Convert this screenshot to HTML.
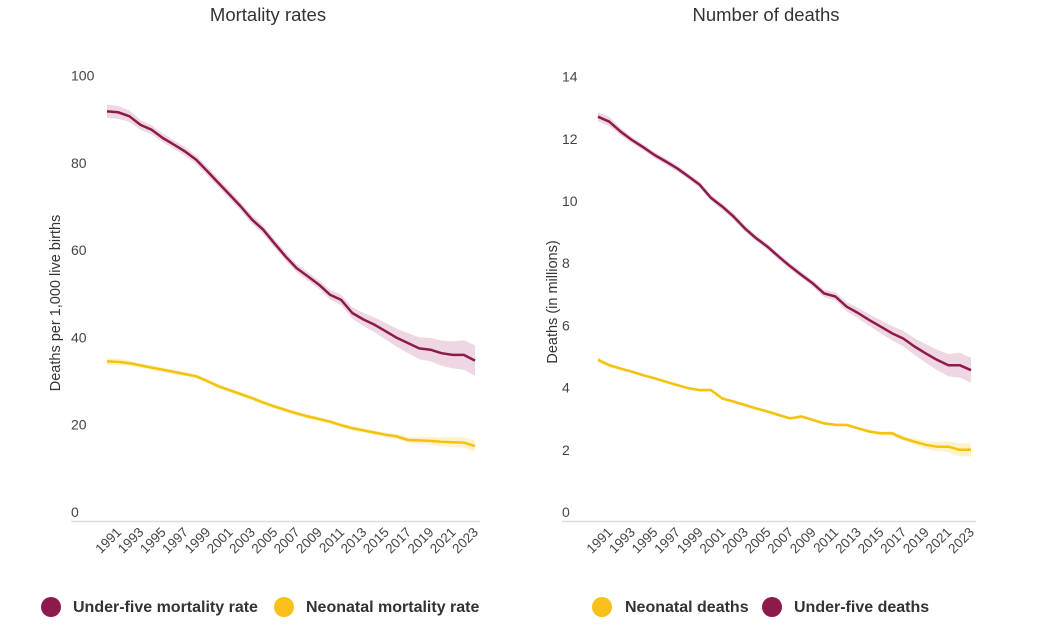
<!DOCTYPE html>
<html><head><meta charset="utf-8"><style>
body{margin:0;background:#fff;font-family:"Liberation Sans",sans-serif}
svg text{font-family:"Liberation Sans",sans-serif}
</style></head><body>
<svg id="s" width="1037" height="633" viewBox="0 0 1037 633">
<text x="268" y="21" text-anchor="middle" font-size="18.5" fill="#333">Mortality rates</text>
<text x="766" y="21" text-anchor="middle" font-size="18.5" fill="#333">Number of deaths</text>
<text transform="translate(60,303) rotate(-90)" text-anchor="middle" font-size="14.5" fill="#333">Deaths per 1,000 live births</text>
<text transform="translate(557,302) rotate(-90)" text-anchor="middle" font-size="14.5" fill="#333">Deaths (in millions)</text>
<g>
<circle cx="51" cy="607" r="10" fill="#8c1a4a"/>
<text x="73" y="612" font-size="16" font-weight="bold" fill="#333">Under-five mortality rate</text>
<circle cx="284" cy="607" r="10" fill="#f9bf1a"/>
<text x="306" y="612" font-size="16" font-weight="bold" fill="#333">Neonatal mortality rate</text>
</g>
<g>
<circle cx="602" cy="607" r="10" fill="#f9bf1a"/>
<text x="625" y="612" font-size="16" font-weight="bold" fill="#333">Neonatal deaths</text>
<circle cx="772" cy="607" r="10" fill="#8c1a4a"/>
<text x="794" y="612" font-size="16" font-weight="bold" fill="#333">Under-five deaths</text>
</g>
</svg>
<script>
const years = [1990,1991,1992,1993,1994,1995,1996,1997,1998,1999,2000,2001,2002,2003,2004,2005,2006,2007,2008,2009,2010,2011,2012,2013,2014,2015,2016,2017,2018,2019,2020,2021,2022,2023];
const xTickLabels = ["1991","1993","1995","1997","1999","2001","2003","2005","2007","2009","2011","2013","2015","2017","2019","2021","2023"];
const rateTicks = [0,20,40,60,80,100];
const deathTicks = [0,2,4,6,8,10,12,14];
const u5Rate = [91.8,91.6,90.7,88.7,87.6,85.7,84.2,82.6,80.7,78.1,75.4,72.7,70.0,67.0,64.7,61.6,58.6,55.9,54.0,52.1,49.8,48.6,45.6,44.1,42.9,41.4,39.9,38.7,37.5,37.2,36.4,36.0,36.0,34.7];
const u5RateUnc = [1.5,1.5,1.3,1.1,1,1,1,1,1,1,1,1,1,1,1,1,1,1,1,1,1.1,1.2,1.3,1.5,1.7,1.9,2.1,2.3,2.5,2.7,2.9,3.1,3.4,3.5];
const nnRate = [34.5,34.4,34.1,33.6,33.1,32.6,32.1,31.6,31.1,30.0,28.8,27.9,27.0,26.1,25.1,24.2,23.4,22.6,21.9,21.3,20.7,19.9,19.2,18.7,18.2,17.7,17.3,16.5,16.4,16.3,16.1,16.0,15.9,15.1];
const nnRateUnc = [0.8,0.7,0.6,0.5,0.5,0.5,0.5,0.5,0.5,0.5,0.5,0.5,0.5,0.5,0.5,0.5,0.5,0.5,0.5,0.5,0.5,0.5,0.5,0.5,0.5,0.5,0.6,0.7,0.8,0.9,1.0,1.1,1.2,1.3];
const u5Deaths = [12.71,12.55,12.23,11.96,11.73,11.48,11.27,11.05,10.79,10.52,10.10,9.82,9.50,9.12,8.80,8.53,8.21,7.90,7.62,7.35,7.03,6.93,6.60,6.40,6.17,5.96,5.75,5.58,5.32,5.10,4.89,4.72,4.72,4.56];
const u5DeathsUnc = [0.15,0.15,0.12,0.1,0.1,0.1,0.1,0.1,0.1,0.1,0.1,0.1,0.1,0.1,0.1,0.1,0.1,0.1,0.1,0.1,0.12,0.13,0.15,0.17,0.19,0.21,0.23,0.25,0.27,0.3,0.33,0.36,0.4,0.4];
const nnDeaths = [4.89,4.72,4.61,4.51,4.40,4.30,4.19,4.08,3.98,3.92,3.92,3.65,3.55,3.44,3.33,3.23,3.12,3.01,3.07,2.96,2.85,2.80,2.80,2.69,2.59,2.53,2.53,2.37,2.26,2.16,2.10,2.10,2.00,2.00];
const nnDeathsUnc = [0.08,0.06,0.05,0.05,0.05,0.05,0.05,0.05,0.05,0.05,0.05,0.05,0.05,0.05,0.05,0.05,0.05,0.05,0.05,0.05,0.05,0.05,0.05,0.05,0.05,0.06,0.07,0.08,0.1,0.12,0.15,0.18,0.2,0.22];

const NS='http://www.w3.org/2000/svg';
const svg=document.getElementById('s');
function mk(tag,attrs,parent){const e=document.createElementNS(NS,tag);for(const k in attrs)e.setAttribute(k,attrs[k]);(parent||svg).appendChild(e);return e;}

function drawChart(id,x0,x1,yZero,yMax,vMax,ticks,series){
  const xs=y=>x0+(y-years[0])*(x1-x0)/(years[years.length-1]-years[0]);
  const ys=v=>yZero-v*(yZero-yMax)/vMax;
  const g=mk('g',{});
  
  
  const axis=mk('line',{x1:x0-36,x2:x1+5,y1:521.5,y2:521.5,stroke:'#ddd','stroke-width':1.5},g);
  
  
  ticks.forEach(t=>{
    const tx=mk('text',{x:x0-36,y:ys(t)+5,'font-size':14,fill:'#444'},g);
    tx.textContent=t;
    
    
  });
  xTickLabels.forEach(l=>{
    const px=xs(+l)+4, py=533;
    const tx=mk('text',{x:px,y:py,'font-size':13.5,fill:'#444','text-anchor':'end',transform:`rotate(-45 ${px} ${py})`},g);
    tx.textContent=l;
    
    
  });
  series.forEach(s=>{
    let d='';
    s.vals.forEach((v,i)=>{d+=(i?'L':'M')+xs(years[i]).toFixed(1)+','+ys(v+s.unc[i]).toFixed(1);});
    for(let i=s.vals.length-1;i>=0;i--){d+='L'+xs(years[i]).toFixed(1)+','+ys(s.vals[i]-s.unc[i]).toFixed(1);}
    const band=mk('path',{d:d+'Z',fill:s.band,opacity:0.6},g);
    
    
    const pts=s.vals.map((v,i)=>xs(years[i]).toFixed(1)+','+ys(v).toFixed(1)).join(' ');
    const ln=mk('polyline',{points:pts,fill:'none',stroke:s.color,'stroke-width':2.5,'stroke-linejoin':'round'},g);
    
    
  });
}
drawChart('left-chart',107,475,512,75.6,100,rateTicks,[
  {name:'under-five-rate',vals:u5Rate,unc:u5RateUnc,color:'#8c1a4a',band:'#e2bcd0'},
  {name:'neonatal-rate',vals:nnRate,unc:nnRateUnc,color:'#f4c20d',band:'#fbe9a8'}]);
drawChart('right-chart',598,971,512,76.6,14,deathTicks,[
  {name:'under-five-deaths',vals:u5Deaths,unc:u5DeathsUnc,color:'#8c1a4a',band:'#e2bcd0'},
  {name:'neonatal-deaths',vals:nnDeaths,unc:nnDeathsUnc,color:'#f4c20d',band:'#fbe9a8'}]);
</script>
</body></html>
